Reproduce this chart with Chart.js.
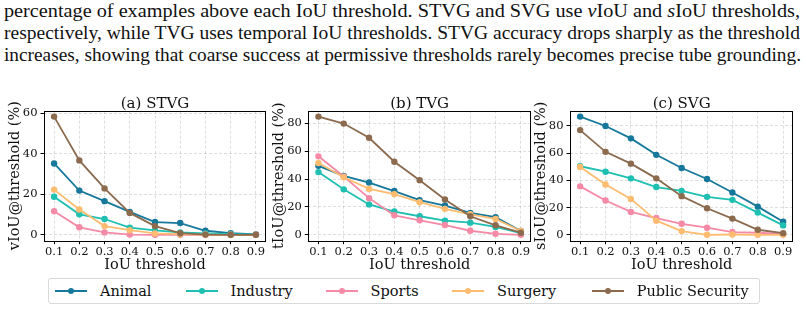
<!DOCTYPE html>
<html lang="en">
<head>
<meta charset="UTF-8">
<title>Accuracy vs IoU threshold</title>
<script src="https://cdn.jsdelivr.net/npm/chart.js"></script>
<style>
  body { margin: 0; width: 806px; height: 311px; background: #fff; position: relative; overflow: hidden; }

  /* caption lines from the paper, stretched to the column width */
  .cap {
    position: absolute; left: 4px;
    font-family: 'Liberation Serif', 'Times New Roman', serif;
    font-size: 18px; line-height: 22px; color: #111;
    white-space: nowrap; transform-origin: 0 50%;
  }

  .panel { position: absolute; top: 90px; height: 186px; }

  #legend {
    position: absolute; left: 48px; top: 278px; width: 712px; height: 26px;
    border: 1px solid #d9d9d9; border-radius: 3px; box-sizing: border-box;
    font-family: 'DejaVu Serif', serif; font-size: 14.5px; color: #111;
  }
  .item { position: absolute; top: 0; height: 24px; display: flex; align-items: center; white-space: nowrap; }
  .swatch { width: 32px; height: 2px; position: relative; margin-right: 13px; }
  .swatch i { position: absolute; left: 13px; top: -2px; width: 6px; height: 6px; border-radius: 50%; }
</style>
</head>
<body>

<div class="cap" style="top:0px" data-w="796">percentage of examples above each IoU threshold. STVG and SVG use <i>v</i>IoU and <i>s</i>IoU thresholds,</div>
<div class="cap" style="top:22px" data-w="796">respectively, while TVG uses temporal IoU thresholds. STVG accuracy drops sharply as the threshold</div>
<div class="cap" style="top:44px" data-w="797">increases, showing that coarse success at permissive thresholds rarely becomes precise tube grounding.</div>

<div class="panel" style="left:0px; width:270px;"><canvas id="stvgChart" width="270" height="186"></canvas></div>
<div class="panel" style="left:270px; width:265px;"><canvas id="tvgChart" width="265" height="186"></canvas></div>
<div class="panel" style="left:528px; width:278px;"><canvas id="svgChart" width="278" height="186"></canvas></div>

<div id="legend"></div>

<script>
    // IoU thresholds on the x axis
    const thresholds = [0.1, 0.2, 0.3, 0.4, 0.5, 0.6, 0.7, 0.8, 0.9];
    const names = ['Animal', 'Industry', 'Sports', 'Surgery', 'Public Security'];
    const colors = ['#16789a', '#1fbfb2', '#f58aa6', '#fdbc70', '#8b6a4e'];

    // (a) STVG, vIoU@threshold (%)
    const stvgAnimal   = [35.2, 21.8, 16.6, 11.3, 6.3, 5.8, 2.0, 0.8, 0.2];
    const stvgIndustry = [18.8, 10.1, 7.8, 3.5, 2.2, 1.2, 0.7, 0.3, 0.1];
    const stvgSports   = [11.6, 3.7, 1.2, 0.1, 0.0, 0.0, 0.0, 0.0, 0.0];
    const stvgSurgery  = [22.3, 12.5, 4.3, 2.3, 0.7, 0.3, 0.1, 0.0, 0.0];
    const stvgPublic   = [58.3, 36.7, 22.9, 10.8, 4.3, 0.8, 0.1, 0.0, 0.0];

    // (b) TVG, tIoU@threshold (%)
    const tvgAnimal   = [49.5, 42.3, 37.5, 31.4, 24.9, 21.0, 15.7, 12.6, 2.7];
    const tvgIndustry = [45.0, 32.6, 21.8, 16.7, 13.3, 10.2, 8.7, 5.6, 1.2];
    const tvgSports   = [56.3, 41.8, 26.3, 14.0, 10.4, 7.0, 2.9, 0.7, 0.0];
    const tvgSurgery  = [51.5, 41.3, 32.9, 29.2, 23.4, 18.6, 14.7, 11.4, 2.7];
    const tvgPublic   = [84.8, 79.8, 69.6, 52.4, 39.2, 25.4, 13.3, 6.8, 1.5];

    // (c) SVG, sIoU@threshold (%)
    const svgAnimal   = [86.9, 80.0, 70.9, 58.8, 49.1, 41.0, 31.1, 20.7, 9.6];
    const svgIndustry = [50.4, 46.4, 41.5, 35.1, 32.3, 27.9, 25.7, 16.3, 6.9];
    const svgSports   = [35.6, 25.2, 16.8, 12.3, 8.1, 5.2, 2.0, 1.5, 0.7];
    const svgSurgery  = [49.9, 37.0, 26.4, 10.4, 2.7, 0.0, 0.2, 0.0, 0.0];
    const svgPublic   = [77.0, 61.0, 52.3, 41.5, 28.4, 19.5, 11.9, 3.7, 1.2];

    // y tick labels
    const stvgTicks = [0, 20, 40, 60];
    const tvgTicks = [0, 20, 40, 60, 80];
    const svgTicks = [0, 20, 40, 60, 80];

    // stretch caption lines to the column width
    document.querySelectorAll('.cap').forEach(el => {
        const w = el.getBoundingClientRect().width;
        el.style.transform = 'scaleX(' + (Number(el.dataset.w) / w) + ')';
    });

    const serif = "'DejaVu Serif', serif";

    // black frame around the plot area + centered subplot title
    const framePlugin = {
        id: 'frame',
        afterDraw(chart, args, opts) {
            const a = chart.chartArea, ctx = chart.ctx;
            ctx.save();
            ctx.setLineDash([]);
            ctx.strokeStyle = '#000';
            ctx.lineWidth = 1;
            ctx.strokeRect(Math.round(a.left) + 0.5, Math.round(a.top) + 0.5,
                           Math.round(a.right - a.left) - 1, Math.round(a.bottom - a.top));
            ctx.font = '15px ' + serif;
            ctx.fillStyle = '#111';
            ctx.textAlign = 'center';
            ctx.textBaseline = 'alphabetic';
            ctx.fillText(opts.text, (a.left + a.right) / 2, a.top - 2.5);
            ctx.restore();
        }
    };

    function makePanel(id, title, yTitle, series, yMin, yMax, yTicks, yWidth, padRight, yTitlePad) {
        const datasets = series.map((vals, i) => ({
            label: names[i],
            data: vals.map((v, j) => ({ x: thresholds[j], y: v })),
            borderColor: colors[i],
            backgroundColor: colors[i],
            borderWidth: 1.8,
            pointRadius: 3.2,
            pointBorderWidth: 0,
            order: names.length - i
        }));

        return new Chart(document.getElementById(id), {
            type: 'line',
            data: { datasets: datasets },
            options: {
                responsive: false,
                animation: false,
                layout: { padding: { top: 20.7, right: padRight, left: 0, bottom: 0 } },
                plugins: {
                    legend: { display: false },
                    tooltip: { enabled: false },
                    frame: { text: title }
                },
                scales: {
                    x: {
                        type: 'linear',
                        min: 0.06, max: 0.94,
                        afterBuildTicks: s => { s.ticks = thresholds.map(v => ({ value: v })); },
                        afterFit: s => { s.height = 35.3; },
                        ticks: {
                            autoSkip: false, maxRotation: 0, padding: 1,
                            color: '#111', font: { family: serif, size: 11.5 },
                            callback: v => v.toFixed(1)
                        },
                        grid: { color: 'rgba(0,0,0,0.13)', tickColor: '#000', tickLength: 3.5, tickWidth: 1 },
                        border: { display: false, dash: [3, 2] },
                        title: {
                            display: true, text: 'IoU threshold', color: '#111',
                            font: { family: serif, size: 14.5, lineHeight: 1 },
                            padding: { top: 0, bottom: 3.5 }
                        }
                    },
                    y: {
                        type: 'linear',
                        min: yMin, max: yMax,
                        afterBuildTicks: s => { s.ticks = yTicks.map(v => ({ value: v })); },
                        afterFit: s => { s.width = yWidth; },
                        ticks: { padding: 3, color: '#111', font: { family: serif, size: 11.5 } },
                        grid: { color: 'rgba(0,0,0,0.13)', tickColor: '#000', tickLength: 3.5, tickWidth: 1 },
                        border: { display: false, dash: [3, 2] },
                        title: {
                            display: true, text: yTitle, color: '#111',
                            font: { family: serif, size: 14.5, lineHeight: 1 },
                            padding: { top: yTitlePad, bottom: 0 }
                        }
                    }
                }
            },
            plugins: [framePlugin]
        });
    }

    makePanel('stvgChart', '(a) STVG', 'vIoU@threshold (%)',
        [stvgAnimal, stvgIndustry, stvgSports, stvgSurgery, stvgPublic],
        -2.9, 61.2, stvgTicks, 44, 1, 7.5);
    makePanel('tvgChart', '(b) TVG', 'tIoU@threshold (%)',
        [tvgAnimal, tvgIndustry, tvgSports, tvgSurgery, tvgPublic],
        -4.24, 89.04, tvgTicks, 38.3, 2.3, 1.75);
    makePanel('svgChart', '(c) SVG', 'sIoU@threshold (%)',
        [svgAnimal, svgIndustry, svgSports, svgSurgery, svgPublic],
        -4.35, 91.25, svgTicks, 42, 12.7, 5.75);

    // shared legend under the three panels
    const legendLeft = [6, 136.5, 276.5, 403, 542.7];
    const legend = document.getElementById('legend');
    names.forEach((name, i) => {
        const item = document.createElement('div');
        item.className = 'item';
        item.style.left = legendLeft[i] + 'px';
        item.innerHTML = '<span class="swatch" style="background:' + colors[i] + '"><i style="background:' + colors[i] + '"></i></span>' + name;
        legend.appendChild(item);
    });
</script>
</body>
</html>
